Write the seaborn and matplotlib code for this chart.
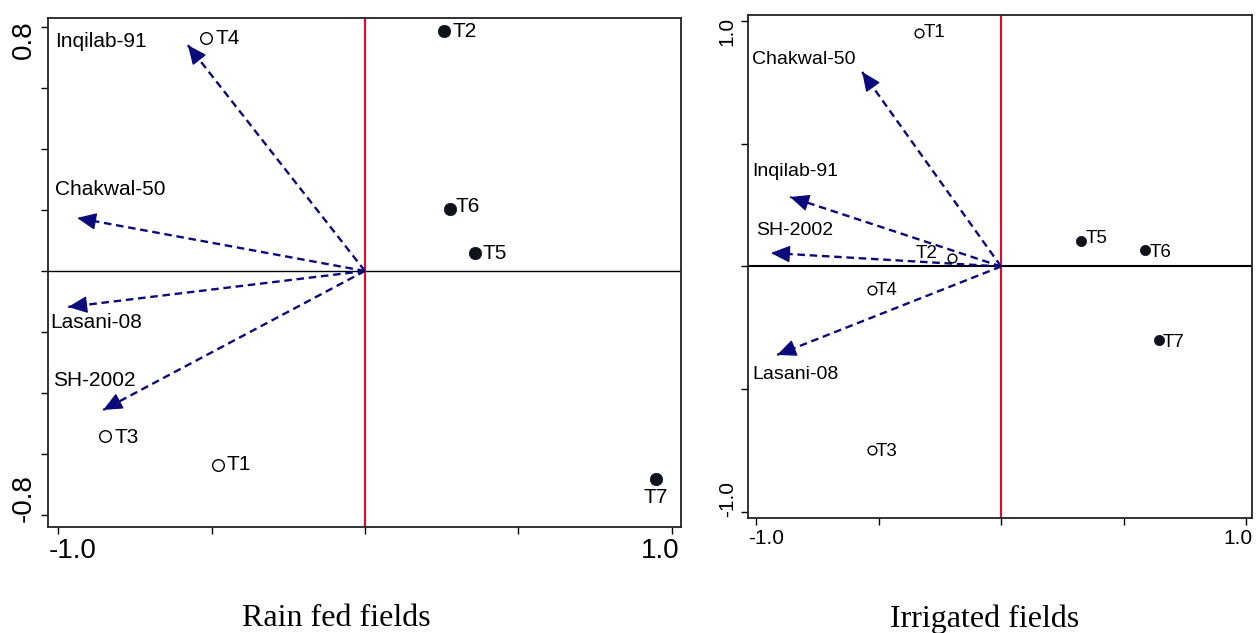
import matplotlib
matplotlib.use("Agg")
import matplotlib.pyplot as plt
import matplotlib.transforms as mtrans
import seaborn as sns
import pandas as pd
import numpy as np

sns.set_theme(style="white")
plt.rcParams['font.family'] = ['Liberation Sans', 'DejaVu Sans']
plt.rcParams['text.color'] = 'black'
plt.rcParams['xtick.color'] = 'black'
plt.rcParams['ytick.color'] = 'black'

# ---------------- data ----------------
treatments = ["T1", "T2", "T3", "T4", "T5", "T6", "T7"]
# Rain fed
rain_x = [-0.479, 0.257, -0.847, -0.518, 0.358, 0.277, 0.948]
rain_y = [-0.636, 0.787, -0.541, 0.764, 0.059, 0.203, -0.682]
rain_filled = [False, True, False, False, True, True, True]
# Irrigated
irr_x = [-0.335, -0.200, -0.527, -0.527, 0.327, 0.588, 0.645]
irr_y = [0.951, 0.035, -0.747, -0.096, 0.104, 0.067, -0.300]
irr_filled = [False, False, False, False, True, True, True]

varieties_rain = ["Inqilab-91", "Chakwal-50", "Lasani-08", "SH-2002"]
rain_vx = [-0.577, -0.938, -0.967, -0.853]
rain_vy = [0.741, 0.174, -0.118, -0.456]
rain_lab_x = [-1.01, -1.01, -1.026, -1.016]
rain_lab_y = [0.754, 0.266, -0.170, -0.361]

varieties_irr = ["Chakwal-50", "Inqilab-91", "SH-2002", "Lasani-08"]
irr_vx = [-0.567, -0.861, -0.939, -0.914]
irr_vy = [0.792, 0.283, 0.055, -0.360]
irr_lab_x = [-1.016, -1.016, -1.0, -1.016]
irr_lab_y = [0.841, 0.385, 0.145, -0.438]

titles = ["Rain fed fields", "Irrigated fields"]

# point label offsets (pixels) and alignment
rain_off = {"T1": (9, 0, "left", "center"), "T2": (9, 0, "left", "center"),
            "T3": (9, -2, "left", "center"), "T4": (9, 0, "left", "center"),
            "T5": (8, 0, "left", "center"), "T6": (6, 3, "left", "center"),
            "T7": (0, -19, "center", "center")}
irr_off = {"T1": (5, 0, "left", "center"), "T2": (-15, 4, "right", "center"),
           "T3": (4, -2, "left", "center"), "T4": (4, 0, "left", "center"),
           "T5": (4, 2, "left", "center"), "T6": (4, -2, "left", "center"),
           "T7": (4, -2, "left", "center")}

fig = plt.figure(figsize=(12.56, 6.33), dpi=100)
ax1 = fig.add_axes([0.0382, 0.1675, 0.504, 0.804])
ax2 = fig.add_axes([0.5955, 0.1817, 0.4013, 0.7946])

navy = "#0a0a7a"
red = "#e8062c"


def shift(txt, dx, dy):
    txt.set_transform(txt.get_transform() +
                      mtrans.ScaledTranslation(dx / 100, dy / 100, fig.dpi_scale_trans))


def draw(ax, px, py, filled, offs, vnames, vx, vy, lx, ly, xlim, ylim,
         xticks, yticks, tick_fs, lab_fs, pt_fs, msize_open, msize_fill, zlw,
         xsh, ysh):
    ax.set_xlim(*xlim)
    ax.set_ylim(*ylim)
    ax.axhline(0, color="black", lw=zlw, zorder=1)
    ax.axvline(0, color=red, lw=1.5, zorder=1)
    df = pd.DataFrame({"x": px, "y": py, "t": treatments, "f": filled})
    sns.scatterplot(data=df[~df.f], x="x", y="y", ax=ax, s=msize_open,
                    facecolor="white", edgecolor="black", linewidth=1.0, zorder=4)
    sns.scatterplot(data=df[df.f], x="x", y="y", ax=ax, s=msize_fill,
                    color="#10121c", edgecolor="#10121c", linewidth=0.5, zorder=4)
    for _, r in df.iterrows():
        dx, dy, ha, va = offs[r.t]
        ax.annotate(r.t, (r.x, r.y), xytext=(dx, dy), textcoords="offset pixels",
                    ha=ha, va=va, fontsize=pt_fs, color="black", zorder=5)
    for name, ex, ey, tx, ty in zip(vnames, vx, vy, lx, ly):
        ax.plot([0, ex], [0, ey], color=navy, lw=1.7, linestyle=(0, (3.2, 2.0)),
                zorder=3, solid_capstyle="butt", dash_capstyle="butt")
        u = np.array([ex, ey]) / np.hypot(ex, ey)
        ax.annotate("", xy=(ex, ey), xytext=(-16 * u[0], -16 * u[1]),
                    textcoords="offset pixels",
                    arrowprops=dict(arrowstyle="-|>,head_length=0.85,head_width=0.38",
                                    color=navy, lw=1.0, shrinkA=0, shrinkB=0,
                                    mutation_scale=14),
                    zorder=3)
        ax.text(tx, ty, name, ha="left", va="center", fontsize=lab_fs, color="black")
    ax.set_xlabel("")
    ax.set_ylabel("")
    ax.set_xticks(xticks)
    ax.set_yticks(yticks)
    xl = ["-1.0" if abs(t + 1) < 1e-9 else ("1.0" if abs(t - 1) < 1e-9 else "") for t in xticks]
    ax.set_xticklabels(xl, fontsize=tick_fs, color="black")
    ymax = max(yticks)
    yl = [f"{t:.1f}" if abs(abs(t) - ymax) < 1e-9 else "" for t in yticks]
    ax.set_yticklabels(yl, fontsize=tick_fs, rotation=90, color="black")
    ax.tick_params(axis="both", which="both", direction="out", length=5, width=1,
                   color="black", bottom=True, left=True, pad=3)
    xlabs = ax.get_xticklabels()
    xlabs[0].set_horizontalalignment("left")
    shift(xlabs[0], xsh[0], 0)
    xlabs[-1].set_horizontalalignment("right")
    shift(xlabs[-1], xsh[1], 0)
    ylabs = ax.get_yticklabels()
    ylabs[0].set_verticalalignment("bottom")
    shift(ylabs[0], 0, ysh[0])
    ylabs[-1].set_verticalalignment("top")
    shift(ylabs[-1], 0, ysh[1])
    for s in ax.spines.values():
        s.set_color("#222222")
        s.set_linewidth(1.3)


draw(ax1, rain_x, rain_y, rain_filled, rain_off, varieties_rain, rain_vx, rain_vy,
     rain_lab_x, rain_lab_y, (-1.033, 1.03), (-0.84, 0.83),
     [-1.0, -0.5, 0.0, 0.5, 1.0], [-0.8, -0.6, -0.4, -0.2, 0.0, 0.2, 0.4, 0.6, 0.8],
     20, 15, 15, 70, 80, 1.0, (-9, 8), (-7, 7))
draw(ax2, irr_x, irr_y, irr_filled, irr_off, varieties_irr, irr_vx, irr_vy,
     irr_lab_x, irr_lab_y, (-1.033, 1.024), (-1.024, 1.024),
     [-1.0, -0.5, 0.0, 0.5, 1.0], [-1.0, -0.5, 0.0, 0.5, 1.0],
     15, 14, 13.5, 40, 55, 1.5, (-8, 6), (-5, 4))

fig.text(336 / 1256, 1 - 619 / 633, titles[0], ha="center", va="center",
         fontsize=23, color="black", family=["Liberation Serif", "DejaVu Serif"])
fig.text(985 / 1256, 1 - 619 / 633, titles[1], ha="center", va="center",
         fontsize=23, color="black", family=["Liberation Serif", "DejaVu Serif"])

fig.savefig("out.png", dpi=100)
